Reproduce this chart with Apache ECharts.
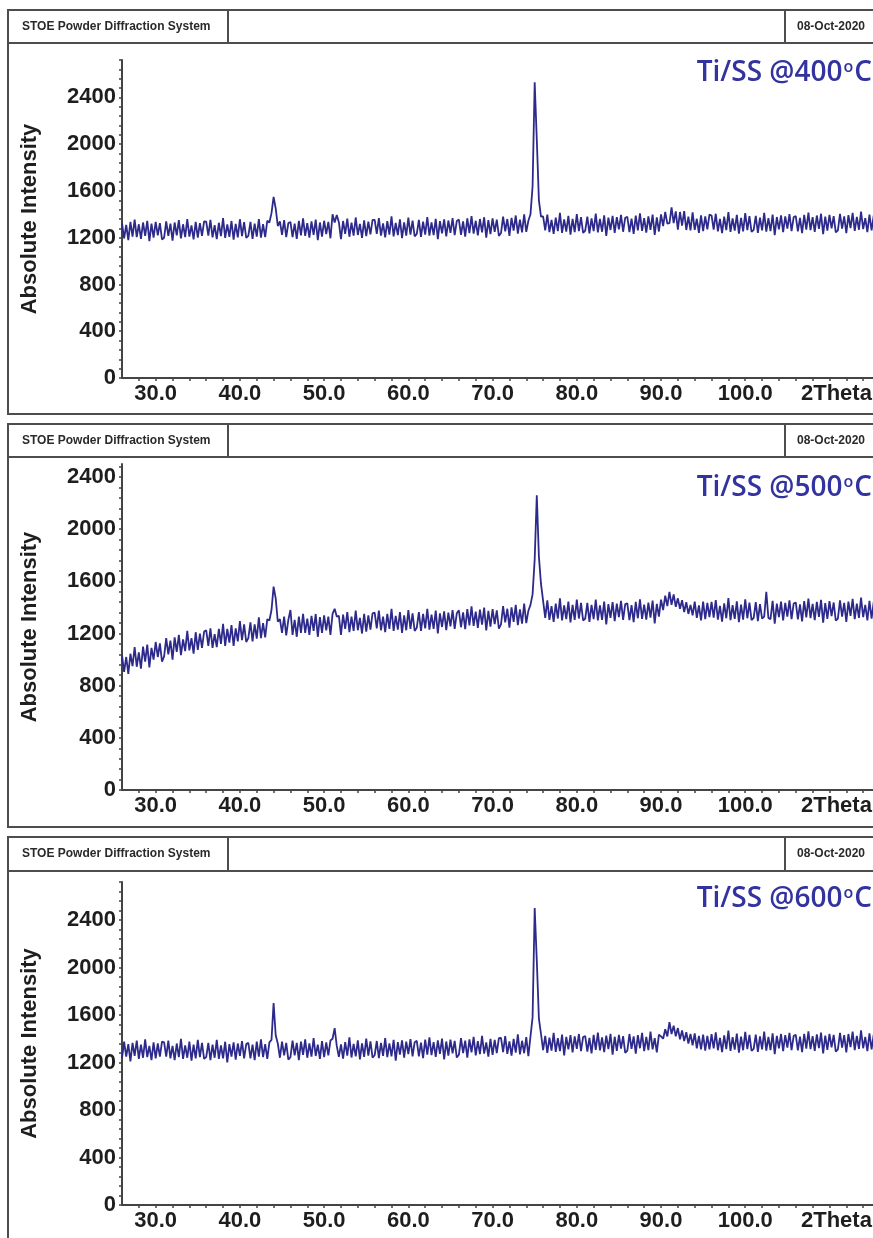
<!DOCTYPE html>
<html><head><meta charset="utf-8">
<script src="https://cdn.jsdelivr.net/npm/echarts@6/dist/echarts.min.js"></script>
<style>html,body{margin:0;padding:0;background:#fff;overflow:hidden}#c{width:873px;height:1238px}</style>
</head><body><div id="c"></div>
<script>
// ---- data (2θ scan: start + step, counts per step) ----
const START_2THETA = 26;
const STEP_2THETA = 0.25;
const xLabelValues = [30, 40, 50, 60, 70, 80, 90, 100, 110];
const xTickValues = [28,30,32,34,36,38,40,42,44,46,48,50,52,54,56,58,60,62,64,66,68,70,72,74,76,78,80,82,84,86,88,90,92,94,96,98,100,102,104,106,108,110,112,114,116];
const yLabelValues = [0, 400, 800, 1200, 1600, 2000, 2400];
const yTickValues = [0,80,160,240,320,400,480,560,640,720,800,880,960,1040,1120,1200,1280,1360,1440,1520,1600,1680,1760,1840,1920,2000,2080,2160,2240,2320,2400,2480,2560,2640,2720];
const headerText = 'STOE Powder Diffraction System';
const dateText = '08-Oct-2020';
const sampleLabels = ['Ti/SS @400', 'Ti/SS @500', 'Ti/SS @600'];

const ti400 = [
1325,1195,1310,1180,1335,1210,1355,1205,1315,1190,1330,1215,1345,1170,1320,1200,1335,1220,1325,1185,
1200,1340,1215,1320,1175,1330,1220,1350,1195,1315,1205,1360,1210,1305,1185,1335,1200,1325,1215,1340,
1338,1218,1353,1203,1308,1188,1328,1213,1368,1198,1313,1208,1343,1183,1318,1203,1358,1213,1333,1198,
1215,1335,1190,1320,1210,1360,1200,1315,1205,1345,1330,1410,1550,1450,1300,1340,1225,1350,1205,1325,
1335,1205,1320,1190,1345,1220,1365,1215,1325,1200,1340,1225,1355,1180,1330,1210,1345,1230,1335,1195,
1400,1330,1395,1333,1188,1343,1233,1363,1208,1328,1218,1373,1223,1318,1198,1348,1213,1338,1228,1353,
1352,1232,1367,1217,1322,1202,1342,1227,1382,1212,1327,1222,1357,1197,1332,1217,1372,1227,1347,1212,
1232,1352,1207,1337,1227,1377,1217,1332,1222,1362,1187,1342,1237,1357,1212,1347,1242,1367,1222,1342,
1355,1225,1340,1210,1365,1240,1385,1235,1345,1220,1360,1245,1375,1200,1350,1230,1365,1250,1355,1215,
1240,1380,1255,1360,1215,1370,1260,1390,1235,1355,1245,1400,1250,1345,1400,1640,2530,2040,1520,1380,
1382,1262,1397,1247,1352,1232,1372,1257,1412,1242,1357,1252,1387,1227,1362,1247,1402,1257,1377,1242,
1261,1381,1236,1366,1256,1406,1246,1361,1251,1391,1216,1371,1266,1386,1241,1376,1271,1396,1251,1371,
1378,1248,1363,1233,1388,1263,1408,1258,1368,1243,1383,1268,1398,1223,1373,1253,1400,1300,1420,1320,
1325,1460,1325,1425,1270,1420,1303,1427,1266,1380,1262,1417,1267,1362,1242,1392,1257,1382,1272,1397,
1390,1270,1405,1255,1360,1240,1380,1265,1420,1250,1365,1260,1395,1235,1370,1255,1410,1265,1385,1250,
1267,1387,1242,1372,1262,1412,1252,1367,1257,1397,1222,1377,1272,1392,1247,1382,1277,1402,1257,1377,
1385,1255,1370,1240,1395,1270,1415,1265,1375,1250,1390,1275,1405,1230,1380,1260,1395,1280,1385,1245,
1263,1403,1278,1383,1238,1393,1283,1413,1258,1378,1268,1423,1273,1368,1248,1398,1263,1388,1278,1403,
1330];

const ti500 = [
1035,905,1020,890,1045,950,1095,945,1055,930,1100,985,1115,940,1090,1000,1135,1020,1125,985,
1025,1165,1040,1145,1000,1170,1060,1190,1035,1155,1065,1220,1070,1165,1045,1210,1075,1200,1090,1215,
1225,1105,1240,1090,1195,1095,1235,1120,1275,1105,1235,1130,1265,1105,1240,1140,1295,1150,1270,1135,
1165,1285,1140,1270,1160,1325,1165,1280,1170,1310,1300,1380,1560,1470,1290,1310,1205,1330,1185,1305,
1380,1190,1305,1175,1330,1205,1350,1205,1315,1190,1335,1220,1350,1175,1325,1205,1340,1225,1330,1190,
1350,1390,1330,1335,1190,1345,1235,1365,1210,1330,1220,1375,1225,1320,1200,1350,1215,1340,1230,1355,
1360,1240,1375,1225,1330,1210,1350,1235,1390,1220,1335,1230,1365,1205,1340,1225,1380,1235,1355,1220,
1245,1365,1220,1350,1240,1390,1230,1345,1235,1375,1200,1355,1250,1370,1225,1360,1255,1380,1235,1355,
1378,1248,1363,1233,1388,1263,1408,1258,1368,1243,1383,1268,1398,1223,1373,1253,1388,1273,1378,1238,
1270,1410,1285,1390,1245,1400,1290,1420,1265,1385,1275,1430,1280,1375,1420,1500,1770,2260,1790,1580,
1450,1320,1455,1305,1410,1290,1430,1315,1470,1300,1415,1310,1445,1285,1420,1305,1460,1315,1435,1300,
1315,1435,1290,1420,1310,1460,1300,1415,1305,1445,1270,1425,1320,1440,1295,1430,1325,1450,1305,1425,
1432,1302,1417,1287,1442,1317,1462,1312,1422,1307,1437,1322,1452,1277,1427,1330,1460,1380,1490,1410,
1520,1420,1500,1405,1470,1390,1455,1365,1440,1350,1420,1340,1445,1320,1415,1300,1445,1310,1435,1325,
1442,1322,1457,1307,1412,1292,1432,1317,1472,1302,1417,1312,1447,1287,1422,1307,1462,1317,1437,1302,
1320,1440,1295,1425,1315,1330,1520,1320,1310,1450,1275,1430,1325,1445,1300,1435,1330,1455,1310,1430,
1438,1308,1423,1293,1448,1323,1468,1318,1428,1303,1443,1328,1458,1283,1433,1313,1448,1333,1438,1298,
1315,1455,1330,1435,1290,1445,1335,1465,1310,1430,1320,1475,1325,1420,1300,1450,1315,1440,1330,1455,
1390];

const ti600 = [
1235,1375,1250,1355,1210,1365,1255,1385,1230,1350,1240,1395,1245,1340,1220,1370,1235,1360,1250,1375,
1370,1250,1385,1235,1340,1220,1360,1245,1400,1230,1345,1240,1375,1215,1350,1235,1390,1245,1365,1230,
1245,1365,1220,1350,1240,1390,1230,1345,1235,1375,1200,1355,1250,1370,1225,1360,1255,1380,1235,1355,
1365,1235,1350,1220,1375,1250,1395,1245,1355,1230,1370,1390,1700,1430,1360,1240,1375,1260,1365,1225,
1245,1385,1260,1365,1220,1375,1265,1395,1240,1360,1250,1405,1255,1350,1230,1380,1245,1370,1260,1385,
1400,1490,1340,1247,1352,1232,1372,1257,1412,1242,1357,1252,1387,1227,1362,1247,1402,1257,1377,1242,
1261,1381,1236,1366,1256,1406,1246,1361,1251,1391,1216,1371,1266,1386,1241,1376,1271,1396,1251,1371,
1382,1252,1367,1237,1392,1267,1412,1262,1372,1247,1387,1272,1402,1227,1377,1257,1392,1277,1382,1242,
1265,1405,1280,1385,1240,1395,1285,1415,1260,1380,1270,1425,1275,1370,1250,1400,1265,1390,1280,1405,
1408,1288,1423,1273,1378,1258,1398,1283,1438,1268,1383,1278,1413,1253,1420,1580,2500,2060,1570,1440,
1305,1425,1280,1410,1300,1450,1290,1405,1295,1435,1260,1415,1310,1430,1285,1420,1315,1440,1295,1415,
1422,1292,1407,1277,1432,1307,1452,1302,1412,1287,1427,1312,1442,1267,1417,1297,1432,1317,1422,1282,
1300,1440,1315,1420,1275,1430,1320,1450,1295,1415,1305,1460,1310,1405,1285,1435,1420,1400,1480,1420,
1540,1440,1510,1420,1490,1395,1470,1380,1455,1360,1440,1345,1445,1320,1425,1310,1435,1300,1425,1310,
1438,1318,1453,1303,1408,1288,1428,1313,1468,1298,1413,1308,1443,1283,1418,1303,1458,1313,1433,1298,
1315,1435,1290,1420,1310,1460,1300,1415,1305,1445,1270,1425,1320,1440,1295,1430,1325,1450,1305,1425,
1432,1302,1417,1287,1442,1317,1462,1312,1422,1297,1437,1322,1452,1277,1427,1307,1442,1327,1432,1292,
1310,1450,1325,1430,1285,1440,1330,1460,1305,1425,1315,1470,1320,1415,1295,1445,1310,1435,1325,1450,
1380];

// ---- layout ----
const panels = [
  {top: 10,  bottom: 414,  head: 43,  gridTop: 60,  gridH: 318, yMax: 2720, titleY: 73,  series: ti400, label: sampleLabels[0]},
  {top: 424, bottom: 827,  head: 457, gridTop: 464, gridH: 326, yMax: 2500, titleY: 488, series: ti500, label: sampleLabels[1]},
  {top: 837, bottom: 1260, head: 871, gridTop: 882, gridH: 323, yMax: 2720, titleY: 899, series: ti600, label: sampleLabels[2]}
];
const LINE = '#2d2a8c';
const AX = '#444';
const FONT = '"Liberation Sans", Arial, sans-serif';

const chart = echarts.init(document.getElementById('c'), null, {renderer: 'canvas'});

const graphic = [];
panels.forEach(p => {
  graphic.push({type: 'rect', silent: true, shape: {x: 8, y: p.top, width: 1000, height: p.bottom - p.top},
    style: {fill: 'none', stroke: '#4d4d4d', lineWidth: 2}});
  graphic.push({type: 'line', silent: true, shape: {x1: 8, y1: p.head, x2: 1000, y2: p.head},
    style: {stroke: '#4d4d4d', lineWidth: 2}});
  graphic.push({type: 'line', silent: true, shape: {x1: 228, y1: p.top, x2: 228, y2: p.head},
    style: {stroke: '#4d4d4d', lineWidth: 2}});
  graphic.push({type: 'line', silent: true, shape: {x1: 785, y1: p.top, x2: 785, y2: p.head},
    style: {stroke: '#4d4d4d', lineWidth: 2}});
  graphic.push({type: 'text', silent: true, x: 22, y: (p.top + p.head) / 2,
    style: {text: headerText, fontSize: 12, fontWeight: 'bold', fontFamily: FONT, fill: '#2a2a2a', verticalAlign: 'middle'}});
  graphic.push({type: 'text', silent: true, x: 797, y: (p.top + p.head) / 2,
    style: {text: dateText, fontSize: 12, fontWeight: 'bold', fontFamily: FONT, fill: '#2a2a2a', verticalAlign: 'middle'}});
  graphic.push({type: 'text', silent: true, x: 872, y: p.titleY,
    style: {text: p.label + '{s|o}C', fontSize: 28, fontWeight: 600, fontFamily: '"Open Sans", "Noto Sans", sans-serif', fill: '#3333a0',
      align: 'right', verticalAlign: 'middle',
      rich: {s: {fontSize: 16, fontWeight: 600, fontFamily: '"Open Sans", sans-serif', fill: '#3333a0', verticalAlign: 'top', padding: [0, 1, 0, 1]}}}});
});

const option = {
  animation: false,
  backgroundColor: '#fff',
  graphic: graphic,
  grid: panels.map(p => ({left: 122, top: p.gridTop, width: 758, height: p.gridH, containLabel: false, outerBoundsMode: 'none'})),
  xAxis: panels.map((p, i) => ({
    type: 'value', gridIndex: i, min: 26, max: 116,
    axisLine: {show: true, onZero: false, lineStyle: {color: AX, width: 2}},
    axisTick: {show: true, customValues: xTickValues, length: 3, lineStyle: {color: AX, width: 1.5}},
    axisLabel: {customValues: xLabelValues, fontSize: 22, fontWeight: 'bold', fontFamily: FONT, color: '#1e1e1e', margin: 5,
      formatter: v => v === 110 ? '{t|2Theta}' : v.toFixed(1),
      rich: {t: {fontSize: 22, fontWeight: 'bold', fontFamily: FONT, color: '#1e1e1e', padding: [0, 0, 0, 14]}}},
    splitLine: {show: false}
  })),
  yAxis: panels.map((p, i) => ({
    type: 'value', gridIndex: i, min: 0, max: p.yMax,
    name: 'Absolute Intensity', nameLocation: 'middle', nameGap: 81,
    nameTextStyle: {fontSize: 22, fontWeight: 'bold', fontFamily: FONT, color: '#1e1e1e'},
    axisLine: {show: true, lineStyle: {color: AX, width: 2}},
    axisTick: {show: true, customValues: yTickValues.filter(v => v <= p.yMax), length: 3, lineStyle: {color: AX, width: 1.5}},
    axisLabel: {customValues: yLabelValues, formatter: v => String(v), fontSize: 22, fontWeight: 'bold', fontFamily: FONT, color: '#1e1e1e', margin: 6},
    splitLine: {show: false}
  })),
  series: panels.map((p, i) => ({
    type: 'line', xAxisIndex: i, yAxisIndex: i, silent: true,
    symbol: 'none', showSymbol: false,
    lineStyle: {width: 1.8, color: LINE},
    data: p.series.map((v, j) => [START_2THETA + j * STEP_2THETA, v])
  }))
};
chart.setOption(option);
</script>
</body></html>
